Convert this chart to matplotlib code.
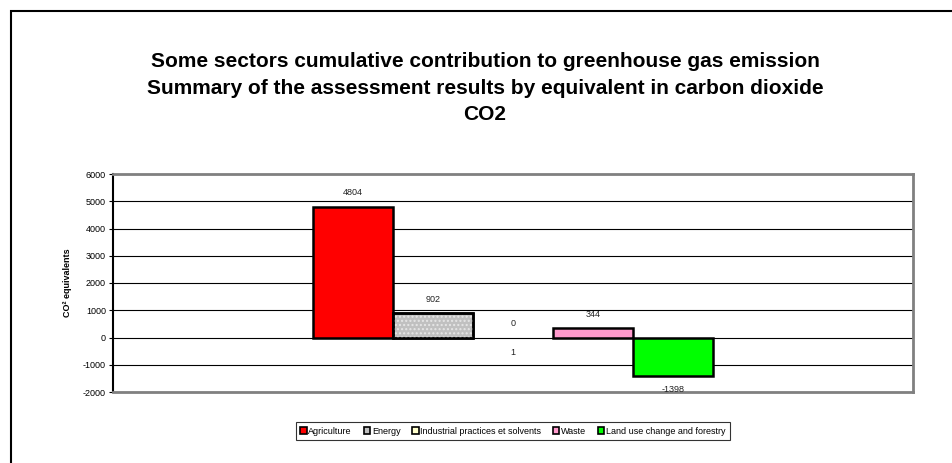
import matplotlib.pyplot as plt
from matplotlib.patches import Rectangle

plt.rcParams['font.family'] = ['Liberation Sans', 'DejaVu Sans']

# data
categories = ['1']
sectors = ['Agriculture', 'Energy', 'Industrial practices et solvents', 'Waste',
           'Land use change and forestry']
values = [4804, 902, 0, 344, -1398]
colors = ['#ff0000', '#c0c0c0', '#ffffcc', '#ff99cc', '#00ff00']
yticks = [-2000, -1000, 0, 1000, 2000, 3000, 4000, 5000, 6000]

fig = plt.figure(figsize=(9.52, 4.63), dpi=100)

# outer chart border (only top and left are inside the picture)
fig.patches.append(Rectangle((11 / 952, -0.1), 1.2, 1 - 11 / 463 + 0.1,
                             transform=fig.transFigure, fill=False,
                             edgecolor='black', lw=1.5))

fig.text(485 / 952, 1 - 88 / 463,
         'Some sectors cumulative contribution to greenhouse gas emission\n'
         'Summary of the assessment results by equivalent in carbon dioxide\n'
         'CO2', ha='center', va='center', fontsize=15, fontweight='bold',
         linespacing=1.5)

ax = fig.add_axes([113 / 952, 1 - 392 / 463, 800 / 952, 218 / 463])
ax.set_xlim(-0.5, 0.5)
ax.set_ylim(-2000, 6000)

w = 0.1
n = len(values)
for i, (name, v, c) in enumerate(zip(sectors, values, colors)):
    x = (i - (n - 1) / 2) * w
    ax.bar(x, v, width=w, color=c, edgecolor='black', lw=1.8 if v else 0,
           label=name, zorder=3)
    if name == 'Energy':
        ax.bar(x, v, width=w, facecolor='none', edgecolor='#e6e6e6', hatch='....',
               lw=0, zorder=3)
        ax.bar(x, v, width=w, facecolor='none', edgecolor='black', lw=1.8, zorder=4)
    off = 10 if v >= 0 else -10
    ax.annotate(str(v), (x, v), xytext=(0, off), textcoords='offset points',
                ha='center', va='center', fontsize=6.5, color='#222222')

# category label under the zero line
ax.annotate(categories[0], (0, 0), xytext=(0, -11), textcoords='offset points',
            ha='center', va='center', fontsize=6.5, color='#222222')

ax.set_yticks(yticks)
ax.set_yticklabels([str(t) for t in yticks], fontsize=6.5)
ax.set_xticks([])
ax.tick_params(axis='y', length=3, width=0.8, pad=2)
ax.yaxis.grid(True, color='black', lw=0.8, zorder=0)
ax.set_axisbelow(True)
for s in ['top', 'right', 'bottom']:
    ax.spines[s].set_color('#808080')
    ax.spines[s].set_linewidth(2)
ax.spines['left'].set_linewidth(1.5)
ax.set_ylabel('CO² equivalents', fontsize=6.5, fontweight='bold', labelpad=8)

handles, labels = ax.get_legend_handles_labels()
leg = fig.legend(handles, labels, loc='center', bbox_to_anchor=(513 / 952, 1 - 431 / 463),
                 ncol=5, fontsize=6.5, frameon=True, fancybox=False,
                 handlelength=0.7, handleheight=0.7, handletextpad=0.2,
                 columnspacing=1.3, borderpad=0.5)
leg.get_frame().set_edgecolor('black')
leg.get_frame().set_linewidth(0.8)
for h in leg.legend_handles:
    h.set_linewidth(1.2)

fig.savefig('out.png', dpi=100)
